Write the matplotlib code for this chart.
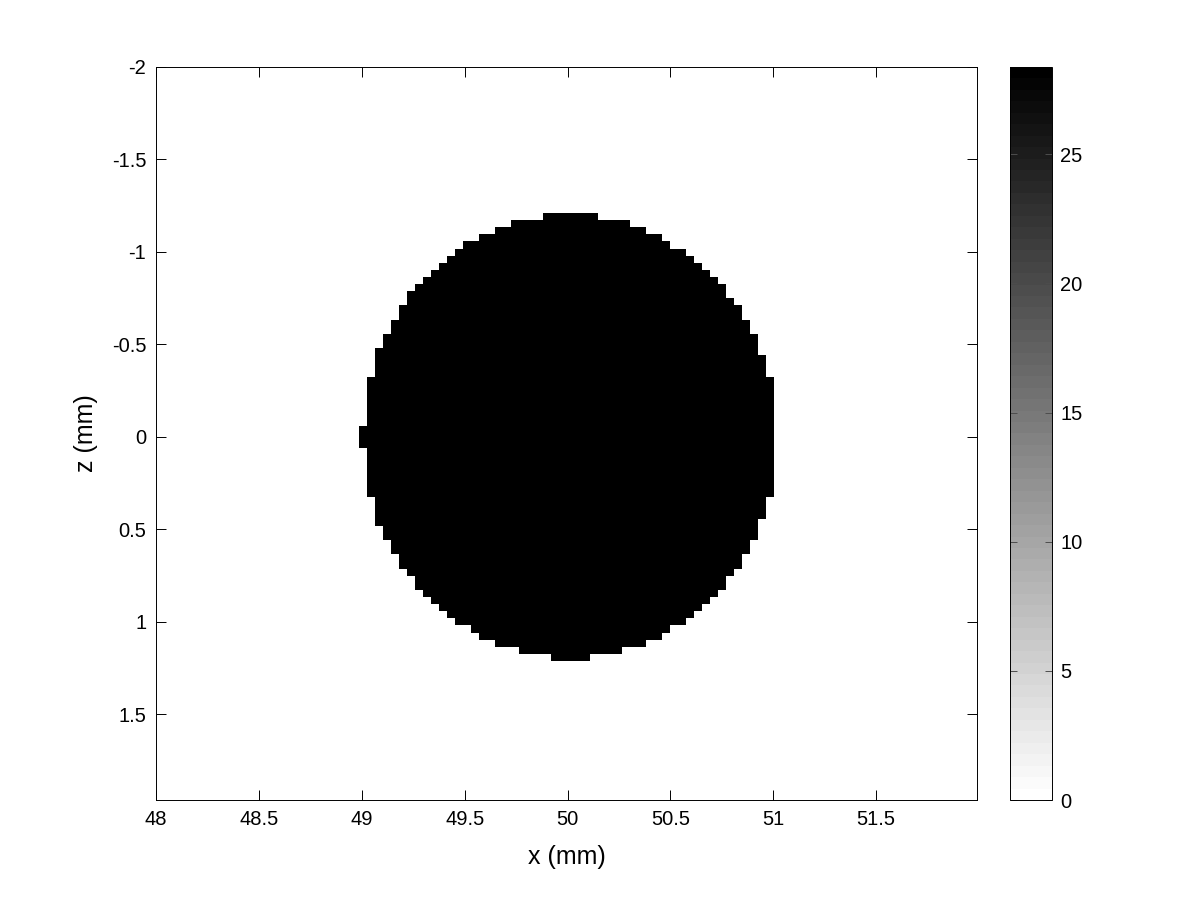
import numpy as np
import matplotlib
matplotlib.use('Agg')
import matplotlib.pyplot as plt

plt.rcParams['font.family'] = ['Liberation Sans', 'DejaVu Sans']
plt.rcParams['axes.unicode_minus'] = False

# inclusion value and colour limits
disk_value = 28.38
c_min, c_max = 0, 28.38

# grid of the inclusion block (mm)
x0, dx = 48.988, 0.0387
z0, dz = -1.205, 0.0384

# first / one-past-last filled column for each grid row, top to bottom
left_col = [23, 19, 17, 15, 13, 12, 11, 10, 9, 8, 7, 6, 6, 5, 5, 4, 4, 3, 3,
            2, 2, 2, 2, 1, 1, 1, 1, 1, 1, 1, 0, 0, 0, 1, 1, 1, 1, 1, 1, 1,
            2, 2, 2, 2, 3, 3, 4, 4, 5, 5, 6, 7, 7, 8, 9, 10, 11, 12, 14, 15,
            17, 20, 24]
right_col = [30, 34, 36, 38, 39, 41, 42, 43, 44, 45, 46, 46, 47, 48, 48, 49, 49,
             50, 50, 50, 51, 51, 51, 52, 52, 52, 52, 52, 52, 52, 52, 52, 52,
             52, 52, 52, 52, 52, 52, 52, 51, 51, 51, 50, 50, 50, 49, 49, 48,
             48, 47, 46, 46, 45, 44, 43, 42, 41, 39, 38, 36, 33, 29]

x_ticks = [48, 48.5, 49, 49.5, 50, 50.5, 51, 51.5]
z_ticks = [-2, -1.5, -1, -0.5, 0, 0.5, 1, 1.5]
cb_ticks = [0, 5, 10, 15, 20, 25]

n_rows = len(left_col)
n_cols = max(right_col)
img = np.zeros((n_rows, n_cols))
for r in range(n_rows):
    img[r, left_col[r]:right_col[r]] = disk_value

fig = plt.figure(figsize=(12, 9), dpi=100)
ax = fig.add_axes([0.13, 0.1111, 0.6842, 0.8145])
cax = fig.add_axes([0.8417, 0.1111, 0.035, 0.8145])

cmap = plt.get_cmap('gray_r', 64)
extent = [x0, x0 + n_cols * dx, z0 + n_rows * dz, z0]
im = ax.imshow(img, extent=extent, aspect='auto', interpolation='nearest',
               cmap=cmap, vmin=c_min, vmax=c_max)

ax.set_xlim(48, 51.99)
ax.set_ylim(1.965, -2)
ax.set_xticks(x_ticks)
ax.set_xticklabels([f'{t:g}' for t in x_ticks])
ax.set_yticks(z_ticks)
ax.set_yticklabels([f'{t:g}' for t in z_ticks])
ax.tick_params(direction='in', top=True, right=True, length=7, width=0.7,
               labelsize=14.5, pad=7)
for s in ax.spines.values():
    s.set_linewidth(0.7)
ax.set_xlabel('x (mm)', fontsize=18, labelpad=12)
ax.set_ylabel('z (mm)', fontsize=18, labelpad=10)

cb = fig.colorbar(im, cax=cax, ticks=cb_ticks)
cb.ax.tick_params(direction='in', left=True, right=True, length=5, width=0.7,
                  labelsize=14.5, pad=6, color='0.3')
cb.outline.set_linewidth(0.7)

fig.savefig('out.png', dpi=100)
